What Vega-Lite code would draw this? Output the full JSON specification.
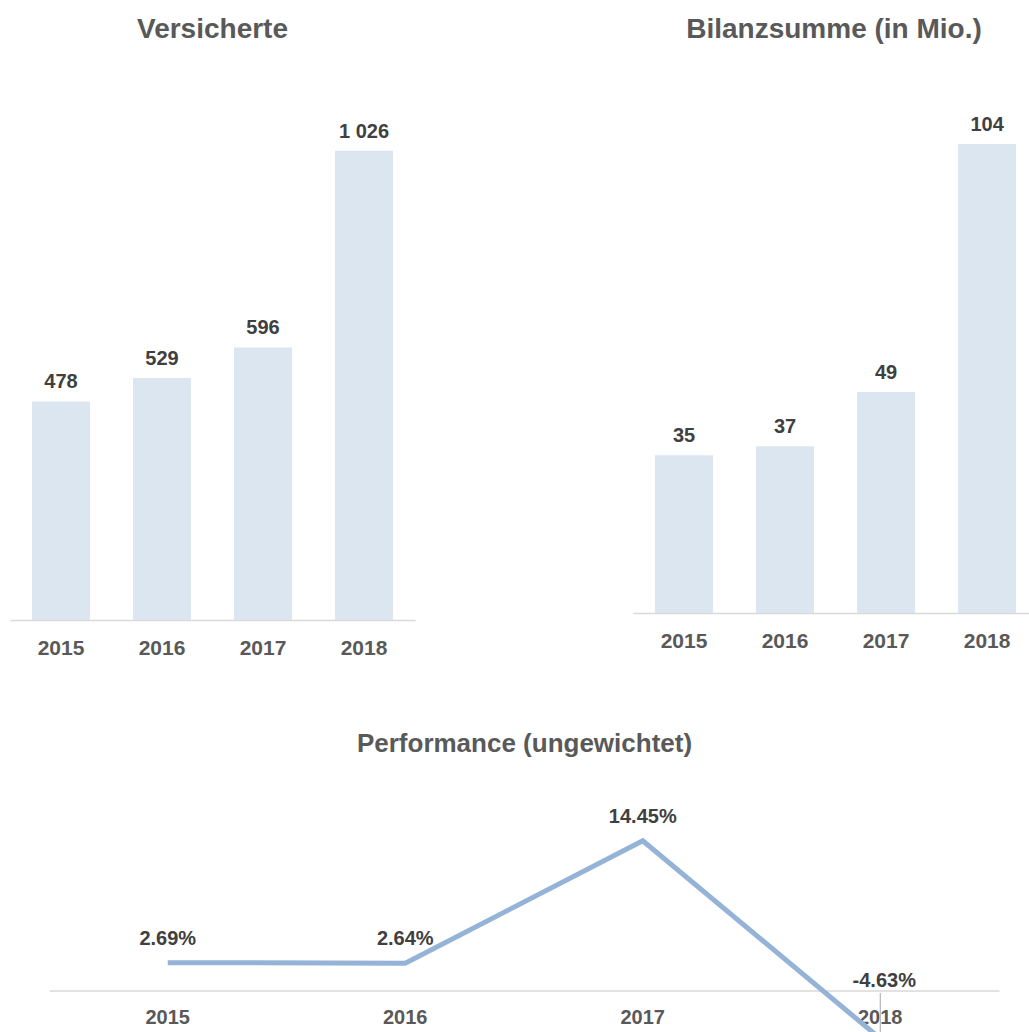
{
  "$schema": "https://vega.github.io/schema/vega-lite/v6.json",
  "background": "white",
  "padding": {"left": 10, "top": 16, "right": 0, "bottom": 0},
  "config": {
    "view": {"stroke": null},
    "locale": {"number": {"decimal": ".", "thousands": " ", "grouping": [3], "currency": ["", ""], "minus": "-"}},
    "title": {"font": "Liberation Sans", "fontSize": 28, "fontWeight": "bold", "color": "#595959", "anchor": "middle", "baseline": "top"},
    "text": {"font": "Liberation Sans", "fontSize": 20, "fontWeight": "bold", "color": "#404040", "baseline": "middle"},
    "axis": {"labelFont": "Liberation Sans", "labelFontSize": 21, "labelFontWeight": "bold", "labelColor": "#595959", "labelAngle": 0, "ticks": false, "title": null, "grid": false, "domainColor": "#D9D9D9", "domainWidth": 1.5, "labelPadding": 17}
  },
  "spacing": 73,
  "vconcat": [
    {
      "spacing": 218,
      "hconcat": [
        {
          "width": 405,
          "height": 540,
          "title": {"text": "Versicherte", "offset": 36},
          "data": {"values": [
            {"year": "2015", "v": 478},
            {"year": "2016", "v": 529},
            {"year": "2017", "v": 596},
            {"year": "2018", "v": 1026}
          ]},
          "encoding": {
            "x": {"field": "year", "type": "ordinal", "scale": {"paddingInner": 0.426, "paddingOuter": 0.218}},
            "y": {"field": "v", "type": "quantitative", "scale": {"domain": [0, 1181], "nice": false}, "axis": null}
          },
          "layer": [
            {"mark": {"type": "bar", "color": "#DCE6F1"}},
            {"mark": {"type": "text", "dy": -19}, "encoding": {"text": {"field": "v", "type": "quantitative", "format": ",d"}}}
          ]
        },
        {
          "width": 396,
          "height": 533,
          "title": {"text": "Bilanzsumme (in Mio.)", "offset": 36, "dx": 3},
          "data": {"values": [
            {"year": "2015", "v": 35},
            {"year": "2016", "v": 37},
            {"year": "2017", "v": 49},
            {"year": "2018", "v": 104}
          ]},
          "encoding": {
            "x": {"field": "year", "type": "ordinal", "scale": {"paddingInner": 0.426, "paddingOuter": 0.173, "align": 0.63}},
            "y": {"field": "v", "type": "quantitative", "scale": {"domain": [0, 118.2], "nice": false}, "axis": null}
          },
          "layer": [
            {"mark": {"type": "bar", "color": "#DCE6F1"}},
            {"mark": {"type": "text", "dy": -19}, "encoding": {"text": {"field": "v", "type": "quantitative", "format": ",d"}}}
          ]
        }
      ]
    },
    {
      "width": 989,
      "height": 228,
      "title": {"text": "Performance (ungewichtet)", "offset": 47, "fontSize": 26, "dx": 20},
      "data": {"values": [
        {"year": "2015", "v": 0.0269},
        {"year": "2016", "v": 0.0264},
        {"year": "2017", "v": 0.1445},
        {"year": "2018", "v": -0.0463}
      ]},
      "encoding": {
        "x": {"field": "year", "type": "ordinal", "scale": {"range": [39, 989]}, "axis": {"offset": -41.5, "labelFontSize": 20}},
        "y": {"field": "v", "type": "quantitative", "scale": {"domain": [-0.04, 0.18], "nice": false, "zero": false}, "axis": null}
      },
      "layer": [
        {"mark": {"type": "line", "color": "#95B3D7", "strokeWidth": 5, "clip": true}},
        {"transform": [{"filter": "datum.v >= 0"}],
         "mark": {"type": "text", "dy": -24},
         "encoding": {"text": {"field": "v", "type": "quantitative", "format": ".2%"}}},
        {"transform": [{"filter": "datum.v < 0"}],
         "mark": {"type": "rule", "color": "#A6A6A6", "strokeWidth": 1, "clip": true},
         "encoding": {"y": {"datum": -0.0024}, "y2": {"field": "v"}}},
        {"transform": [{"filter": "datum.v < 0"}],
         "mark": {"type": "text", "dx": 4},
         "encoding": {"y": {"datum": 0.009}, "text": {"field": "v", "type": "quantitative", "format": ".2%"}}}
      ]
    }
  ]
}
